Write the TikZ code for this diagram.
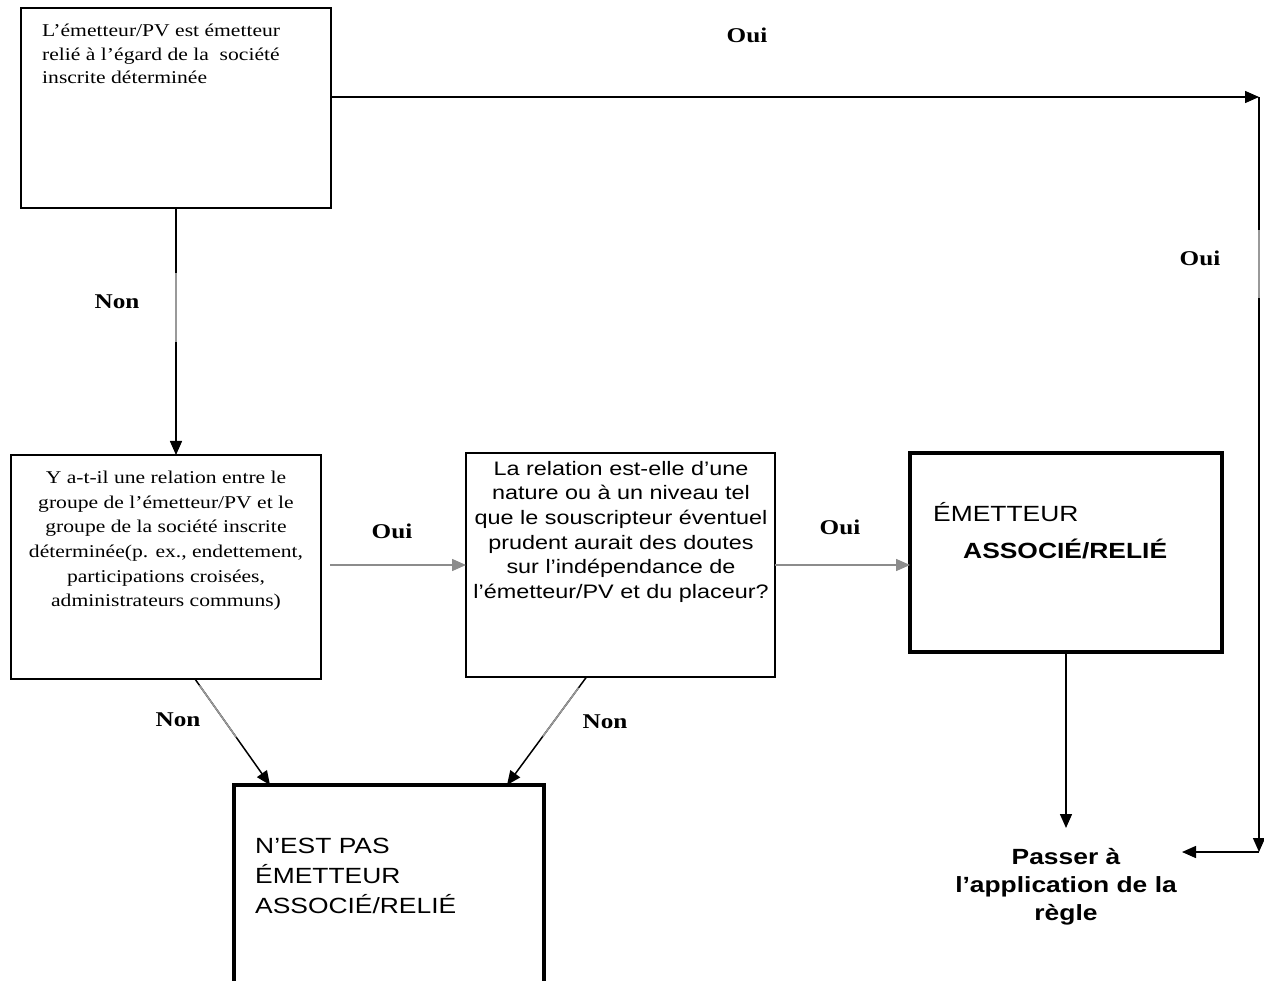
\documentclass[tikz,border=0pt]{standalone}
\usepackage{fontspec}
\setmainfont{Liberation Serif}[FakeStretch=1.2]
\newfontfamily\arialf{Liberation Sans}[FakeStretch=1.2]
\usetikzlibrary{arrows.meta,calc}
\begin{document}
\begin{tikzpicture}[x=1pt,y=-1pt,
  thinbox/.style={draw, line width=1.5pt, inner sep=0pt, outer sep=0pt, anchor=north west},
  thickbox/.style={draw, line width=3.5pt, inner sep=0pt, outer sep=0pt, anchor=north west},
  conn/.style={line width=1.5pt, -{Triangle[length=14pt,width=12pt]}},
  greyconn/.style={conn, draw=black!45, fill=black!55},
  greyseg/.style={line width=1.5pt, draw=black!40},
  lbl/.style={font=\fontsize{21}{24}\selectfont\bfseries, inner sep=0pt},
  seriftxt/.style={font=\fontsize{18}{23.4}\selectfont, inner sep=0pt},
  serifmid/.style={font=\fontsize{18}{24.6}\selectfont, inner sep=0pt, align=center},
  sanstxt/.style={font=\arialf\fontsize{19.5}{24.6}\selectfont, inner sep=0pt, align=center},
  bigsans/.style={font=\arialf\fontsize{22}{30}\selectfont, inner sep=0pt, align=left},
]
\path[use as bounding box] (0,0) rectangle (1264,981);
\clip (0,0) rectangle (1264,981);

% boxes
\node[thinbox, minimum width=310pt, minimum height=200pt] (b1) at (21,8) {};
\node[thinbox, minimum width=310pt, minimum height=224pt] (b2) at (11,455) {};
\node[thinbox, minimum width=309pt, minimum height=224pt] (b3) at (466,453) {};
\node[thickbox, minimum width=312pt, minimum height=199pt] (b4) at (910,453) {};
\node[thickbox, minimum width=310pt, minimum height=240pt] (b5) at (234,785) {};

% texts
\node[seriftxt, anchor=north west, align=left] (t1) at (42,24)
  {L’émetteur/PV est émetteur\\relié à l’égard de la\ \ société\\inscrite déterminée};
\node[serifmid, anchor=north] (t2) at (166,471)
  {Y a-t-il une relation entre le\\groupe de l’émetteur/PV et le\\groupe de la société inscrite\\déterminée(p. ex., endettement,\\participations croisées,\\administrateurs communs)};
\node[sanstxt, anchor=north] (t3) at (621,461)
  {La relation est-elle d’une\\nature ou à un niveau tel\\que le souscripteur éventuel\\prudent aurait des doutes\\sur l’indépendance de\\l’émetteur/PV et du placeur?};
\node[bigsans, anchor=north west, font=\arialf\fontsize{22}{37}\selectfont] (t4) at (933,502)
  {ÉMETTEUR\\\hspace*{30pt}\textbf{ASSOCIÉ/RELIÉ}};
\node[bigsans, anchor=north west] (t5) at (255,838)
  {N’EST PAS\\ÉMETTEUR\\ASSOCIÉ/RELIÉ};
\node[bigsans, anchor=north, align=center, font=\arialf\bfseries\fontsize{22}{28}\selectfont] (pass) at (1066,848)
  {Passer à\\l’application de la\\règle};

% labels
\node[lbl] (l1) at (747,35) {Oui};
\node[lbl] (l2) at (1200,258) {Oui};
\node[lbl] (l3) at (117,302) {Non};
\node[lbl] (l4) at (392,531) {Oui};
\node[lbl] (l5) at (840,527) {Oui};
\node[lbl] (l6) at (178,720) {Non};
\node[lbl] (l7) at (605,722) {Non};

% helper coordinates
\coordinate (c1) at (1259,97);
\coordinate (c2) at (1259,852);
\coordinate (passin) at (1182,852);
\coordinate (passtop) at (1066,828);
\coordinate (d1s) at ($(b2.south)+(29,0)$);
\coordinate (d1e) at ($(b5.north west)+(36,0)$);
\coordinate (d2s) at ($(b3.south)+(-34,0)$);
\coordinate (d2e) at ($(b5.north east)+(-37,0)$);

% connectors
\draw[conn] (b1.east |- c1) -- (c1);
\draw[conn] (c1) -- (c2);
\draw[conn] (c2) -- (passin);
\draw[conn] (b4.south) -- (passtop);
\draw[conn] (b1.south) -- (b1.south |- b2.north);
\draw[greyconn] ($(b2.east |- b3.west)+(9,0)$) -- (b3.west);
\draw[greyconn] (b3.east) -- (b3.east -| b4.west);
\draw[conn] (d1s) -- (d1e);
\draw[conn] (d2s) -- (d2e);

% grey rendering segments on connectors
\draw[greyseg] ($(b1.south)+(0,65)$) -- ($(b1.south)+(0,134)$);
\draw[greyseg] ($(c1)+(0,133)$) -- ($(c1)+(0,201)$);
\draw[greyseg] ($(d1s)!0.06!(d1e)$) -- ($(d1s)!0.55!(d1e)$);
\draw[greyseg] ($(d2s)!0.1!(d2e)$) -- ($(d2s)!0.55!(d2e)$);
\end{tikzpicture}
\end{document}
